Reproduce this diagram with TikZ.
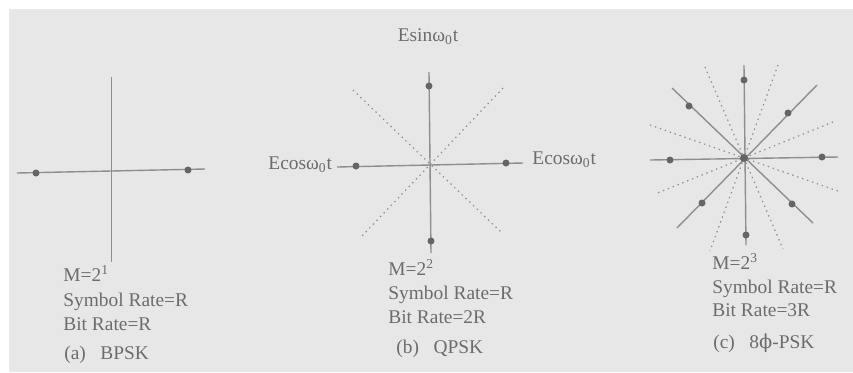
\documentclass[tikz,border=0pt]{standalone}
\usepackage{fontspec}
\setmainfont{Liberation Serif}
\newfontfamily\phifont{DejaVu Serif}
\usetikzlibrary{positioning,calc}
\definecolor{scanbg}{HTML}{E7E7E7}
\definecolor{ink}{HTML}{6C6C6C}
\definecolor{wire}{HTML}{8E8E8E}
\definecolor{blob}{HTML}{656565}

\begin{document}
\begin{tikzpicture}[
    x=0.5pt, y=-0.5pt,
    font=\fontsize{9.7}{12}\selectfont,
    axis/.style={draw=wire, line width=0.7pt},
    guide/.style={draw=wire, line width=0.6pt, dash pattern=on 0.7pt off 1.9pt},
    point/.style={circle, fill=blob, inner sep=0pt, minimum size=3.5pt},
    txt/.style={text=ink, anchor=base west, inner sep=0pt},
    axlabel/.style={text=ink, anchor=base, inner sep=0pt}
]
\useasboundingbox (0,0) rectangle (853,372);
\fill[white] (0,0) rectangle (853,372);
\fill[scanbg] (9,9) rectangle (853,372);

% (a) BPSK
\coordinate (aW) at (17,173);
\coordinate (aE) at (205,169);
\coordinate (aN) at (111,77);
\coordinate (aS) at (111,262);
\draw[axis] (aW) -- (aE);
\draw[axis, line width=0.5pt] (aN) -- (aS);
\node[point] (a1) at (36,173) {};
\node[point] (a2) at (188,170) {};
\node[txt] (mA) at (63,281.5) {M=2\textsuperscript{1}};
\node[txt] (symA) at (63,306.5) {Symbol Rate=R};
\node[txt] (bitA) at (63,330.5) {Bit Rate=R};
\node[txt] (capA) at (64,359.5) {(a)\enspace~BPSK};

% (b) QPSK
\coordinate (bW) at (337,167);
\coordinate (bE) at (523,163);
\coordinate (bN) at (429,72);
\coordinate (bS) at (431,253);
\draw[guide] (353,90) coordinate (bNW) -- (502,233) coordinate (bSE);
\draw[guide] (503,88) coordinate (bNE) -- (362,236) coordinate (bSW);
\draw[axis] (bW) -- (bE);
\draw[axis] (bN) -- (bS);
\node[point] (b1) at (356,166) {};
\node[point] (b2) at (506,163) {};
\node[point] (b3) at (429,86) {};
\node[point] (b4) at (431,241) {};
\node[axlabel] (sinB) at (428,41.5) {Esinω\textsubscript{0}t};
\node[txt] (cosL) at (268,169.5) {Ecosω\textsubscript{0}t};
\node[txt] (cosR) at (532,164.5) {Ecosω\textsubscript{0}t};
\node[txt] (mB) at (388,275.5) {M=2\textsuperscript{2}};
\node[txt] (symB) at (388,299.5) {Symbol Rate=R};
\node[txt] (bitB) at (388,323.5) {Bit Rate=2R};
\node[txt] (capB) at (396,353.5) {(b)\enspace~QPSK};

% (c) 8-PSK
\coordinate (oC) at (744,158);
\foreach \p/\q in {705/67, 778/65, 833/122, 650/125}
  \draw[guide] (\p,\q) -- ($(\p,\q)!2!(oC)$);
\coordinate (cW) at (650,160);
\coordinate (cE) at (838,157);
\coordinate (cN) at (744,65);
\coordinate (cS) at (746,245);
\coordinate (cNW) at (672,88);
\coordinate (cSE) at (813,223);
\coordinate (cNE) at (817,85);
\coordinate (cSW) at (677,228);
\draw[axis] (cW) -- (cE);
\draw[axis] (cN) -- (cS);
\draw[axis] (cNW) -- (cSE);
\draw[axis] (cNE) -- (cSW);
\foreach \x/\y [count=\i] in {670/160, 822/157, 744/80, 746/235, 689/106, 788/113, 702/203, 792/204}
  \node[point] (c\i) at (\x,\y) {};
\fill[blob] (oC) circle (2pt);
\node[txt] (mC) at (712,269.5) {M=2\textsuperscript{3}};
\node[txt] (symC) at (712,293.5) {Symbol Rate=R};
\node[txt] (bitC) at (712,316.5) {Bit Rate=3R};
\node[txt] (capC) at (713,348.5) {(c)\enspace~8{\phifont ϕ}-PSK};
\end{tikzpicture}
\end{document}
